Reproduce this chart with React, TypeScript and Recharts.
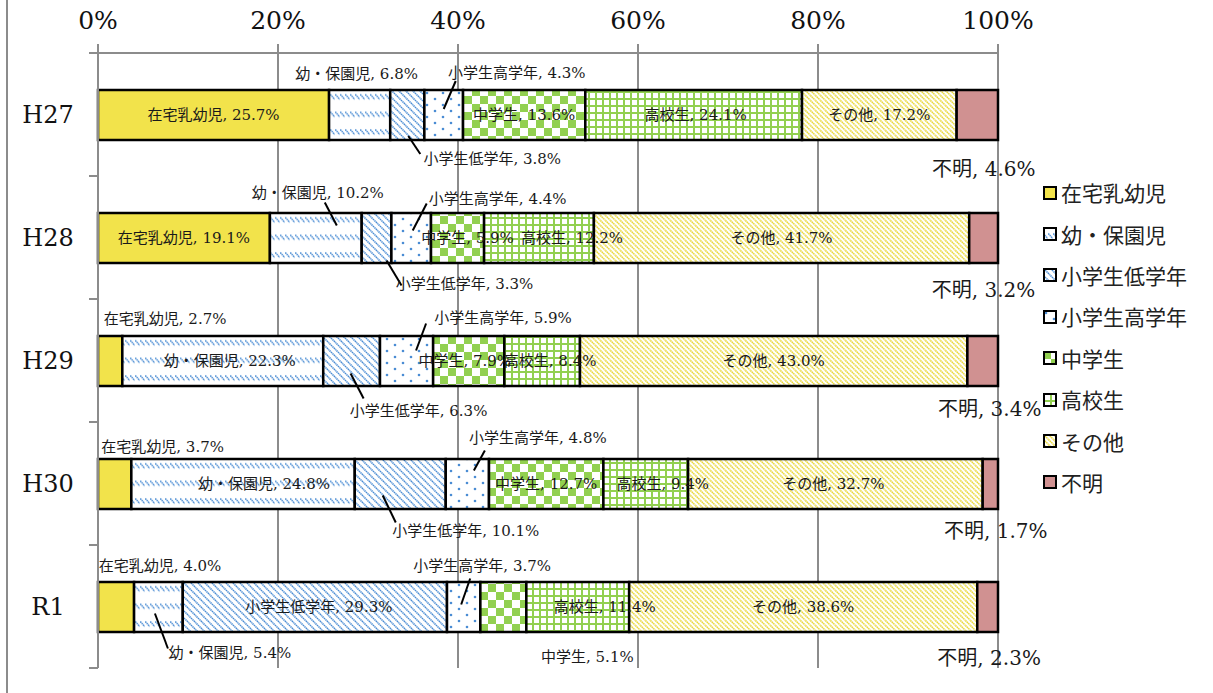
import React from 'react';
import { BarChart, Bar, XAxis, YAxis, CartesianGrid, LabelList, Legend } from 'recharts';

// ---------- data ----------
const categories = ['H27', 'H28', 'H29', 'H30', 'R1'];
const seriesNames = ['在宅乳幼児', '幼・保園児', '小学生低学年', '小学生高学年', '中学生', '高校生', 'その他', '不明'];
const zaitakuValues = [25.7, 19.1, 2.7, 3.7, 4.0];
const youhoValues = [6.8, 10.2, 22.3, 24.8, 5.4];
const teigakunenValues = [3.8, 3.3, 6.3, 10.1, 29.3];
const kougakunenValues = [4.3, 4.4, 5.9, 4.8, 3.7];
const chugakuValues = [13.6, 5.9, 7.9, 12.7, 5.1];
const koukouValues = [24.1, 12.2, 8.4, 9.4, 11.4];
const sonotaValues = [17.2, 41.7, 43.0, 32.7, 38.6];
const fumeiValues = [4.6, 3.2, 3.4, 1.7, 2.3];
const xTickValues = [0, 0.2, 0.4, 0.6, 0.8, 1];

const seriesValues = [
  zaitakuValues, youhoValues, teigakunenValues, kougakunenValues,
  chugakuValues, koukouValues, sonotaValues, fumeiValues,
];

const data = categories.map((cat, i) => {
  const row: Record<string, any> = { cat };
  seriesValues.forEach((vals, s) => { row[`s${s}`] = vals[i]; });
  return row;
});

// ---------- styling / layout ----------
const fills = ['#F2E34B', 'url(#pYouho)', 'url(#pTei)', 'url(#pKou)', 'url(#pChu)', 'url(#pKoukou)', 'url(#pSonota)', '#D09191'];
const LATIN = "'DejaVu Serif', 'Noto Sans CJK JP', serif";
const CJK = "'Noto Sans CJK JP', sans-serif";
const GRAY = '#8C8C8C';
const BLUE = '#4A8CD4';

type Place = { dx: number; dy: number; big?: boolean; lead?: number[] };
const IN: Place = { dx: 0, dy: 0 };
const labelPlaces: Place[][] = [
  [IN, IN, { dx: 55, dy: -42.5 }, { dx: 48, dy: -37 }, { dx: 44, dy: -41.5 }],
  [{ dx: -3, dy: -41 }, { dx: 2, dy: -45.5, lead: [21, -12.5, 9, -35.5] }, { dx: 7, dy: 0 }, { dx: 21, dy: 0 }, { dx: 71.5, dy: 45.5, lead: [-3.5, 6.5, 9.5, 41.5] }],
  [{ dx: 85, dy: 44, lead: [1, 21, 13, 39] }, { dx: 88, dy: 45.5, lead: [10, 22.5, 25, 47.5] }, { dx: 67, dy: 49.5, lead: [-1, 12.5, 12, 37.5] }, { dx: 65.5, dy: 46.5, lead: [-17.5, 11.5, -4.5, 38.5] }, { dx: 4, dy: 0 }],
  [{ dx: 73, dy: -42, lead: [0, -6, 12, -34] }, { dx: 86.5, dy: -39.5, lead: [1.5, -7.5, 15.5, -34.5] }, { dx: 96.5, dy: -43.5, lead: [9.5, -10.5, 19.5, -37.5] }, { dx: 70.5, dy: -46.5, lead: [6.5, -13.5, 17.5, -33.5] }, { dx: 18.5, dy: -41.5, lead: [-2.5, -2.5, 6.5, -28.5] }],
  [IN, { dx: 10, dy: 0 }, { dx: -4, dy: 0 }, IN, { dx: 84, dy: 49.5 }],
  [{ dx: 2, dy: 0 }, { dx: 33, dy: 0 }, { dx: 8, dy: 0 }, { dx: 17, dy: 0 }, { dx: 27, dy: 0 }],
  [IN, IN, IN, { dx: -2, dy: 0 }, IN],
  [{ dx: 6.5, dy: 54, big: true }, { dx: 0, dy: 51.5, big: true }, { dx: 7, dy: 47.5, big: true }, { dx: 5.5, dy: 46.5, big: true }, { dx: 1.5, dy: 50.5, big: true }],
];

const makeLabel = (s: number) => (props: any) => {
  const { x, y, width, height, index } = props;
  const p = labelPlaces[s][index];
  if (!p) return null;
  const cx = Number(x) + Number(width) / 2;
  const cy = Number(y) + Number(height) / 2;
  const text = `${seriesNames[s]}, ${seriesValues[s][index].toFixed(1)}%`;
  return (
    <g key={`lab-${s}-${index}`}>
      {p.lead && (
        <line x1={cx + p.lead[0]} y1={cy + p.lead[1]} x2={cx + p.lead[2]} y2={cy + p.lead[3]} stroke="#000" strokeWidth={2} />
      )}
      <text x={cx + p.dx} y={cy + p.dy} textAnchor="middle" dominantBaseline="central"
        fontSize={p.big ? 20 : 15} fontFamily={LATIN} fill="#1a1a1a">{text}</text>
    </g>
  );
};

const CategoryTick = (props: any) => {
  const { x, y, payload, index, visibleTicksCount, height } = props;
  const band = Number(height) / Number(visibleTicksCount);
  return (
    <g>
      <line x1={x - 9} x2={x} y1={y - band / 2} y2={y - band / 2} stroke={GRAY} strokeWidth={2} />
      {index === visibleTicksCount - 1 && (
        <line x1={x - 9} x2={x} y1={y + band / 2} y2={y + band / 2} stroke={GRAY} strokeWidth={2} />
      )}
      <text x={x - 50} y={y} textAnchor="middle" dominantBaseline="central" fontSize={24} fontFamily={LATIN} fill="#111">
        {payload.value}
      </text>
    </g>
  );
};

const renderLegend = () => (
  <div style={{ display: 'flex', flexDirection: 'column' }}>
    {seriesNames.map((n, i) => (
      <div key={n} style={{ height: 41.4, display: 'flex', alignItems: 'center' }}>
        <svg width={14} height={14} style={{ marginRight: 4, flex: 'none' }}>
          <rect x={1} y={1} width={12} height={12} fill={fills[i]} stroke="#000" strokeWidth={2} />
        </svg>
        <span style={{ fontSize: 21, fontFamily: CJK, color: '#222', whiteSpace: 'nowrap', lineHeight: 1 }}>{n}</span>
      </div>
    ))}
  </div>
);

export default function App() {
  return (
    <div style={{ position: 'relative', width: 1213, height: 693, marginTop: -8, marginLeft: -8 }}>
      <style>{'html{overflow:hidden;}'}</style>
      <div style={{ position: 'fixed', left: 6, top: 0, width: 2, height: 693, background: GRAY, zIndex: 10 }} />
      <BarChart
        width={1213}
        height={693}
        data={data}
        layout="vertical"
        stackOffset="expand"
        margin={{ top: 8, right: 65, bottom: 25, left: 18 }}
      >
        <defs>
          <pattern id="pYouho" patternUnits="userSpaceOnUse" x="0" y="4" width="5" height="17.5714">
            <rect width="5" height="17.5714" fill="#fff" />
            <path d="M0.3,2.5 L4.7,7.5" stroke={BLUE} strokeWidth="1.6" strokeDasharray="1.5 0.6" />
          </pattern>
          <pattern id="pTei" patternUnits="userSpaceOnUse" width="7" height="7">
            <rect width="7" height="7" fill="#fff" />
            <path d="M-1,-1 L8,8 M-1,6 L1,8 M6,-1 L8,1" stroke={BLUE} strokeWidth="1.6" strokeDasharray="1.5 0.6" />
          </pattern>
          <pattern id="pKou" patternUnits="userSpaceOnUse" width="16" height="12">
            <rect width="16" height="12" fill="#fff" />
            <circle cx="3" cy="3" r="1.3" fill={BLUE} />
            <circle cx="11" cy="9" r="1.3" fill={BLUE} />
          </pattern>
          <pattern id="pChu" patternUnits="userSpaceOnUse" width="16" height="16">
            <rect width="16" height="16" fill="#fff" />
            <rect x="0" y="0" width="8" height="8" fill="#92D050" />
            <rect x="8" y="8" width="8" height="8" fill="#92D050" />
          </pattern>
          <pattern id="pKoukou" patternUnits="userSpaceOnUse" width="7" height="7">
            <rect width="7" height="7" fill="#92D050" />
            <rect x="2" y="2" width="5" height="5" fill="#fff" />
          </pattern>
          <pattern id="pSonota" patternUnits="userSpaceOnUse" width="5" height="5">
            <rect width="5" height="5" fill="#fff" />
            <path d="M-1,-1 L6,6 M-1,4 L1,6 M4,-1 L6,1" stroke="#EAD838" strokeWidth="1.6" strokeDasharray="1.5 0.5" />
          </pattern>
        </defs>
        <rect x={6} y={0} width={2} height={693} fill={GRAY} />
        <CartesianGrid horizontal={false} stroke={GRAY} strokeWidth={2} />
        <XAxis
          type="number"
          orientation="top"
          domain={[0, 1]}
          ticks={xTickValues}
          tickFormatter={(v: number) => `${Math.round(v * 100)}%`}
          height={45}
          axisLine={{ stroke: GRAY, strokeWidth: 2 }}
          tickLine={{ stroke: GRAY, strokeWidth: 2 }}
          tickSize={9}
          tickMargin={15}
          tick={{ fontSize: 25, fontFamily: LATIN, fill: '#111' }}
        />
        <YAxis
          type="category"
          dataKey="cat"
          width={80}
          interval={0}
          axisLine={{ stroke: GRAY, strokeWidth: 2 }}
          tickLine={false}
          tickSize={0}
          tickMargin={0}
          tick={<CategoryTick />}
        />
        <XAxis xAxisId="o" type="number" domain={[0, 1]} hide />
        <YAxis yAxisId="o" type="category" dataKey="cat" hide />
        {seriesNames.map((n, s) => (
          <Bar key={`b${s}`} dataKey={`s${s}`} name={n} stackId="a" fill={fills[s]} stroke="#000" strokeWidth={2.5}
            barSize={50} isAnimationActive={false} />
        ))}
        {seriesNames.map((n, s) => (
          <Bar key={`o${s}`} dataKey={`s${s}`} name={`${n}-label`} stackId="o" xAxisId="o" yAxisId="o"
            fill="none" stroke="none" barSize={50} isAnimationActive={false} legendType="none">
            <LabelList content={makeLabel(s)} />
          </Bar>
        ))}
        <Legend layout="vertical" align="right" verticalAlign="middle" content={renderLegend}
          wrapperStyle={{ left: 1043, top: 172, width: 150 }} />
      </BarChart>
    </div>
  );
}
